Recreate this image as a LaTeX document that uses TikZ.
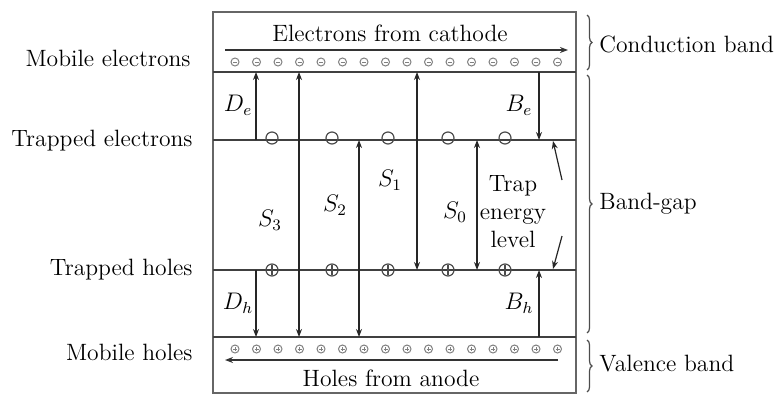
\documentclass[tikz,border=0pt]{standalone}
\usepackage{amsmath}
\usetikzlibrary{arrows.meta,decorations.pathreplacing,calc}

\begin{document}
\begin{tikzpicture}[>={Stealth[length=4pt,width=3pt]},x=0.5pt,y=-0.5pt,
  txt/.style={font=\fontsize{11.8}{14}\selectfont,inner sep=1pt},
  level/.style={line width=0.7pt,draw=black!75},
  mob/.style={line width=0.5pt,draw=black!50},
  trap/.style={line width=0.6pt,draw=black!70},
  jump/.style={line width=0.6pt,draw=black!85},
  bandbrace/.style={decorate,decoration={brace,amplitude=2.5pt},line width=0.6pt,draw=black!70}]
  \useasboundingbox (0,0) rectangle (774,396);
  % frame and levels
  \draw[line width=0.6pt,draw=black!60] (213,12) rectangle (576,393);
  \coordinate (cbL) at (213,72);  \coordinate (cbR) at (576,72);
  \coordinate (teL) at (213,140); \coordinate (teR) at (576,140);
  \coordinate (thL) at (213,270); \coordinate (thR) at (576,270);
  \coordinate (vbL) at (213,337); \coordinate (vbR) at (576,337);
  \draw[level] (cbL) -- (cbR);
  \draw[level] (teL) -- (teR);
  \draw[level] (thL) -- (thR);
  \draw[level] (vbL) -- (vbR);
  % carriers in the bands
  \foreach \i in {0,...,15} {
    \pgfmathsetmacro\cx{235+21.5*\i}
    \draw[mob] (\cx,62) circle[radius=2pt];
    \draw[mob] (\cx-2,62) -- (\cx+2,62);
    \draw[mob] (\cx,349) circle[radius=2pt];
    \draw[mob] (\cx-2,349) -- (\cx+2,349) (\cx,347) -- (\cx,351);
  }
  % trapped carriers
  \foreach \cx in {272,332,388,448,505} {
    \draw[trap] (\cx,138) circle[radius=3pt];
    \draw[trap] (\cx,270) circle[radius=3pt];
    \draw[trap] (\cx,265) -- (\cx,275);
  }
  % currents
  \coordinate (eS) at (225,50);  \coordinate (eE) at (568,50);
  \coordinate (hS) at (558,360); \coordinate (hE) at (225,360);
  \draw[->,line width=0.7pt,black!80] (eS) -- (eE);
  \draw[->,line width=0.7pt,black!80] (hS) -- (hE);
  \node[txt] (eText) at (390,33) {Electrons from cathode};
  \node[txt] (hText) at (391,378) {Holes from anode};
  % transitions
  \draw[->,jump] (256,140) -- (256,72);
  \draw[->,jump] (256,270) -- (256,337);
  \draw[<->,jump] (299,72) -- (299,337);
  \draw[<->,jump] (359,140) -- (359,337);
  \draw[<->,jump] (417,72) -- (417,270);
  \draw[<->,jump] (477,140) -- (477,270);
  \draw[->,jump] (539,72) -- (539,140);
  \draw[->,jump] (539,337) -- (539,270);
  \node[txt] (De) at (238,105) {$D_e$};
  \node[txt] (Be) at (519,105) {$B_e$};
  \node[txt] (Dh) at (238,303) {$D_h$};
  \node[txt] (Bh) at (519,303) {$B_h$};
  \node[txt] (S3) at (270,220) {$S_3$};
  \node[txt] (S2) at (335,205) {$S_2$};
  \node[txt] (S1) at (390,180) {$S_1$};
  \node[txt] (S0) at (455,212) {$S_0$};
  \node[txt,align=center] (trapE) at (513,212) {Trap\\energy\\level};
  \draw[->,jump] (562,180) -- (553,141);
  \draw[->,jump] (562,236) -- (553,269);
  % level names
  \node[txt,anchor=east] (mobE) at (193,58) {Mobile electrons};
  \node[txt,anchor=east] (trE) at (195,141) {Trapped electrons};
  \node[txt,anchor=east] (trH) at (195,270) {Trapped holes};
  \node[txt,anchor=east] (mobH) at (195,352) {Mobile holes};
  % bands
  \draw[bandbrace] (587,15) -- (587,70);
  \draw[bandbrace] (587,75) -- (587,333);
  \draw[bandbrace] (587,340) -- (587,392);
  \node[txt,anchor=west] (cb) at (597,44) {Conduction band};
  \node[txt,anchor=west] (bg) at (597,204) {Band-gap};
  \node[txt,anchor=west] (vb) at (597,364) {Valence band};
\end{tikzpicture}
\end{document}
